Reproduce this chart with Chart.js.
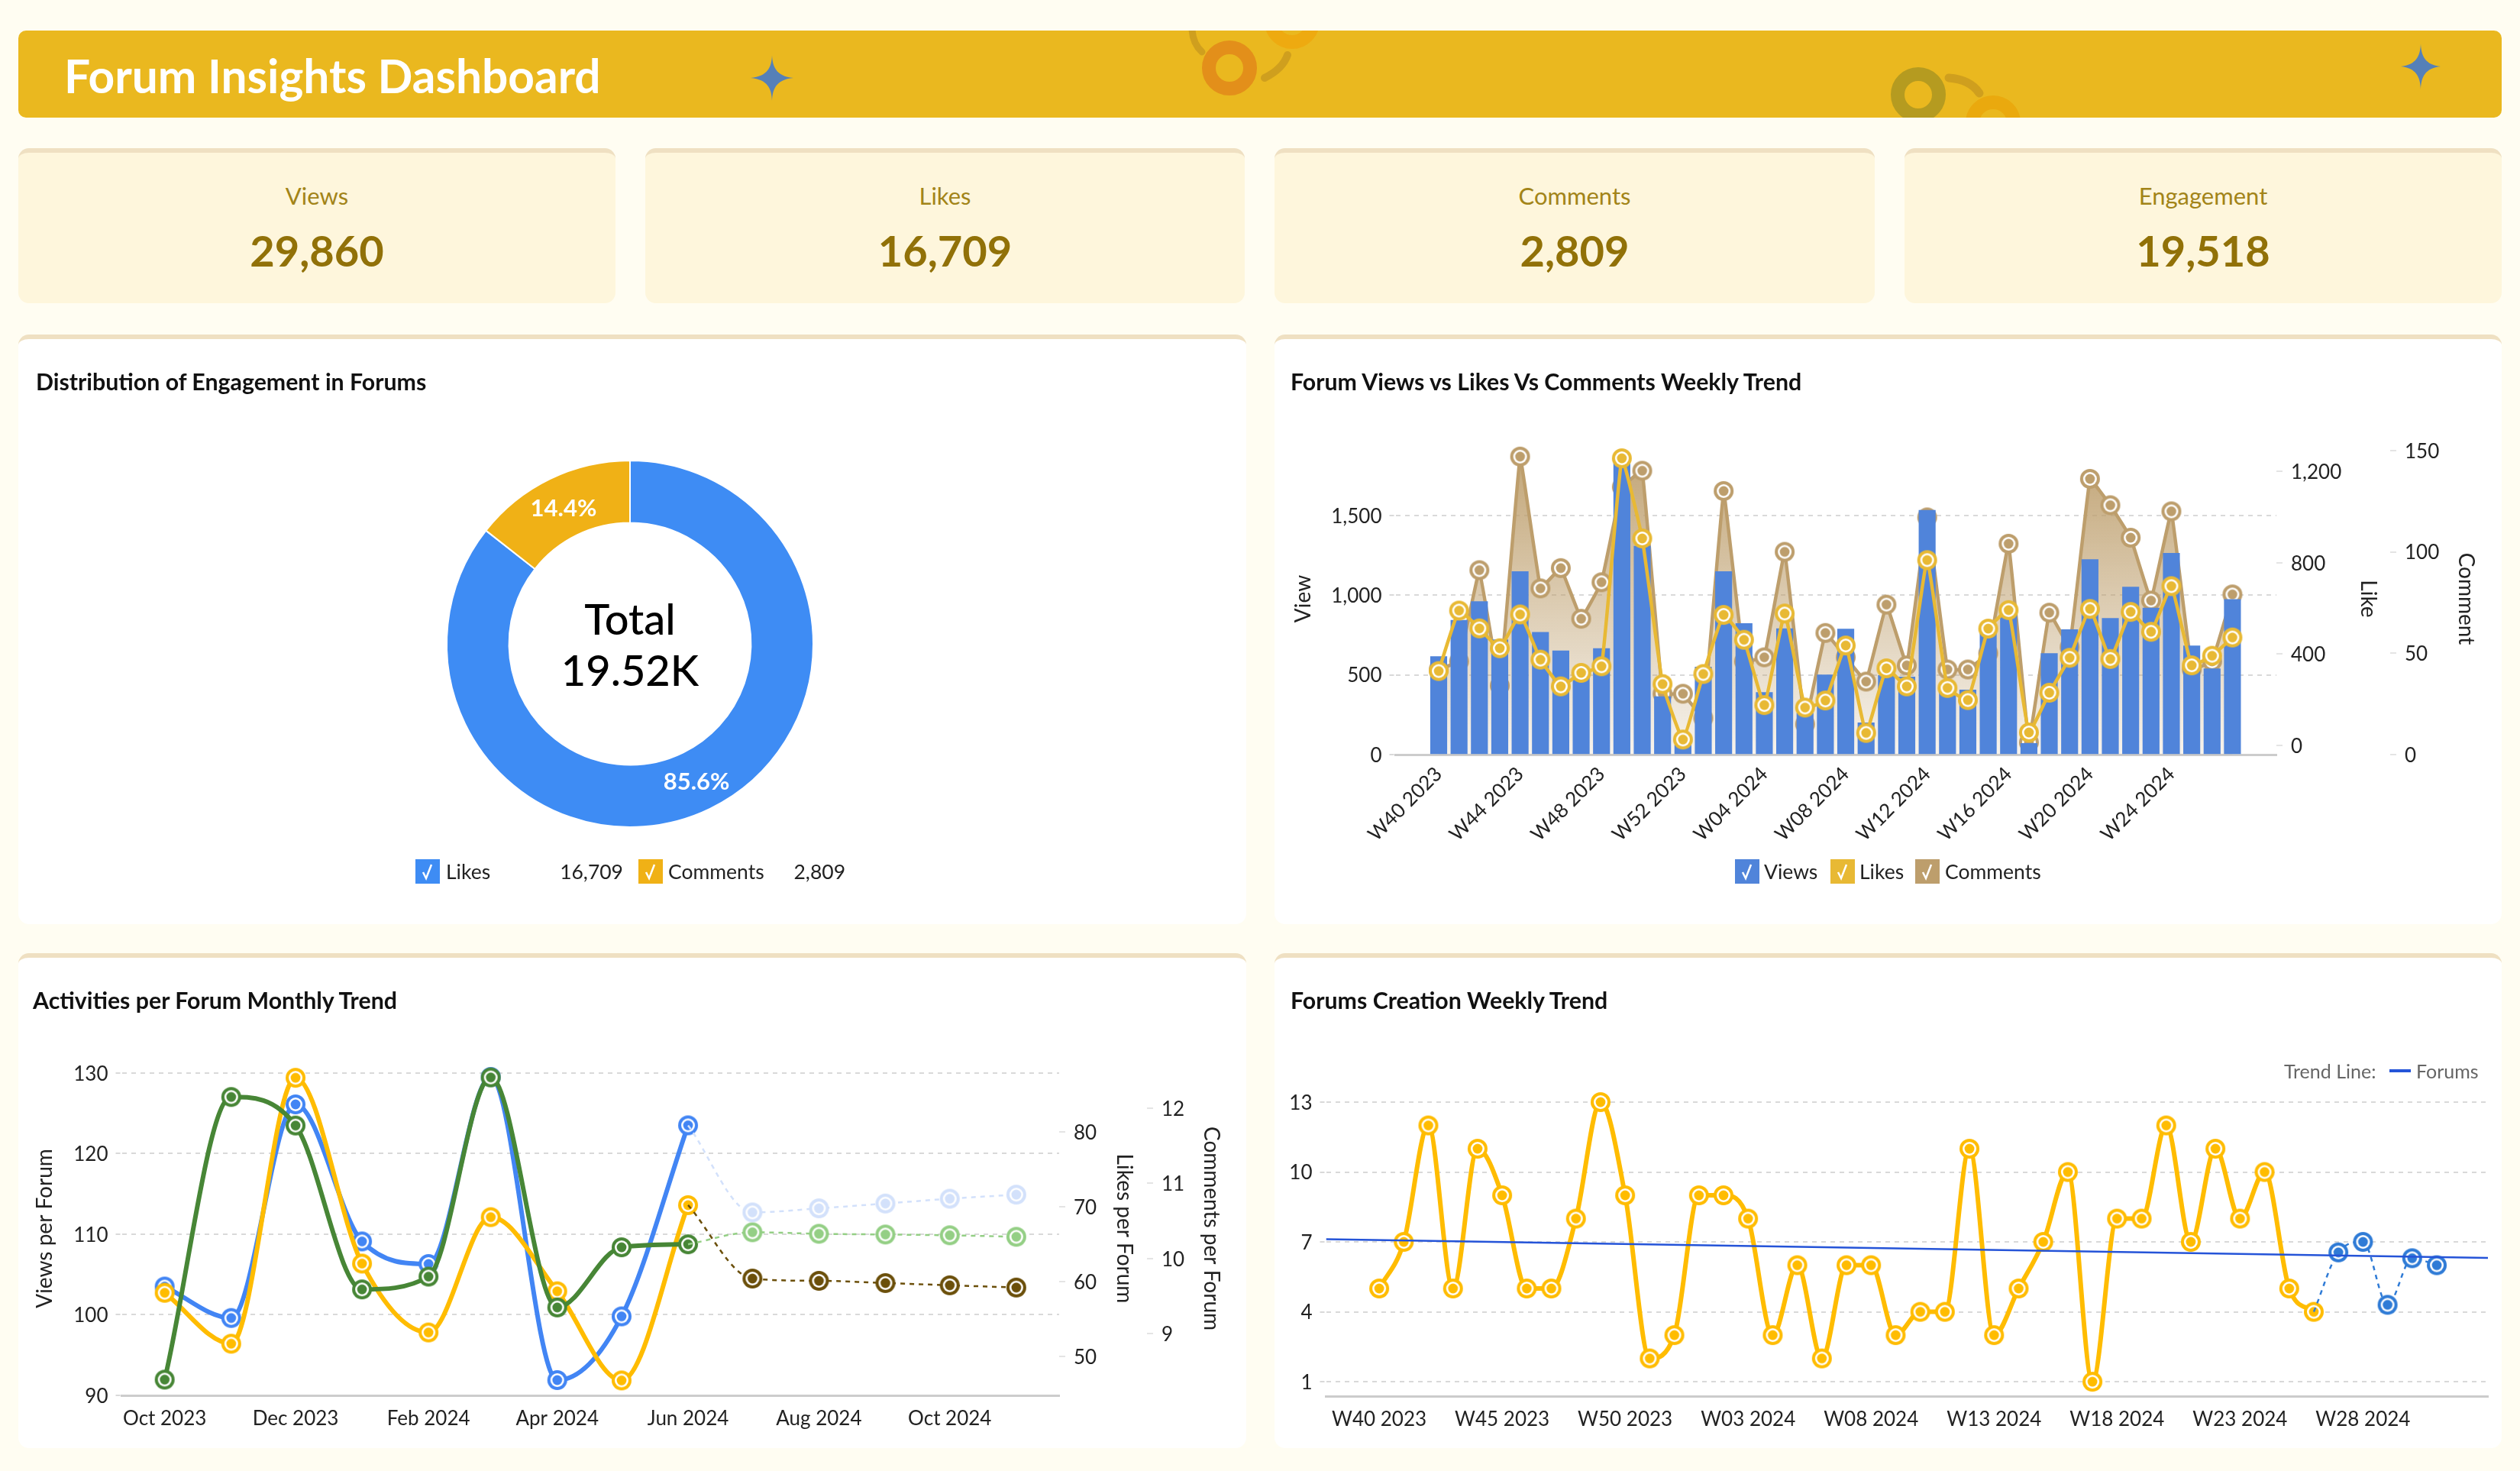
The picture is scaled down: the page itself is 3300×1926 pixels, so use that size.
<!DOCTYPE html>
<html>
<head>
<meta charset="utf-8">
<title>Forum Insights Dashboard</title>
<script src="https://cdn.jsdelivr.net/npm/chart.js@4"></script>
<style>
  html, body { margin: 0; padding: 0; background: #fffdf2; }
  body { position: relative; width: 3300px; height: 1926px; overflow: hidden; font-family: Lato, sans-serif; color: #111; }
  .abs { position: absolute; }
  #header { left: 24px; top: 40px; width: 3252px; height: 114px; background: #eab81f; border-radius: 10px; overflow: hidden; }
  #header h1 { position: absolute; left: 60px; top: 0; margin: 0; line-height: 118px; font-size: 60.4px; font-weight: 700; color: #fff; white-space: nowrap; }
  #header svg { position: absolute; left: 0; top: 0; }
  .kpi { box-sizing: border-box; top: 194px; height: 203px; background: #fef6dc; border-top: 6px solid #efe0c2; border-radius: 14px; text-align: center; }
  .kpi .name { position: absolute; left: 0; right: 0; top: 36px; line-height: 40px; font-size: 31px; color: #a28418; }
  .kpi .num { position: absolute; left: 0; right: 0; top: 88px; line-height: 80px; font-size: 56px; font-weight: 700; color: #917108; }
  .panel { box-sizing: border-box; background: #fff; border-top: 6px solid #efe0c2; border-radius: 14px; }
  .title { font-size: 30.3px; font-weight: 700; line-height: 40px; white-space: nowrap; color: #111; }
  canvas { position: absolute; }
  .sw { position: absolute; top: 1125px; width: 32px; height: 32px; }
  .sw svg { position: absolute; left: 0; top: 0; }
  .lg { position: absolute; top: 1125px; line-height: 32px; font-size: 26.5px; white-space: nowrap; color: #222; }
</style>
</head>
<body>
<div id="header" class="abs">
  <h1>Forum Insights Dashboard</h1>
  <svg width="3252" height="114" viewBox="24 40 3252 114">
    <g fill="none">
      <circle cx="1610" cy="89" r="27" stroke="#e38f1a" stroke-width="18"/>
      <circle cx="1692" cy="28" r="27" stroke="#eeaa10" stroke-width="18"/>
      <circle cx="2512" cy="124" r="27" stroke="#b59b20" stroke-width="18"/>
      <circle cx="2610" cy="161" r="27" stroke="#eaa90e" stroke-width="18"/>
      <path d="M1561 36 Q1561 56 1574 68" stroke="#cf9f1e" stroke-width="9" stroke-linecap="round"/>
      <path d="M1686 72 Q1680 90 1656 102" stroke="#cf9f1e" stroke-width="10" stroke-linecap="round"/>
      <path d="M2552 102 Q2580 104 2592 122" stroke="#cf9f1e" stroke-width="11" stroke-linecap="round"/>
    </g>
    <path fill="#5580b8" d="M1011 72 C1011.5 88 1017 100 1039 102 C1017 104 1011.5 116 1011 132 C1010.5 116 1005 104 983 102 C1005 100 1010.5 88 1011 72Z"/>
    <path fill="#5580b8" d="M3170 57 C3170.5 73 3176 85 3196 87 C3176 89 3170.5 101 3170 117 C3169.5 101 3164 89 3144 87 C3164 85 3169.5 73 3170 57Z"/>
  </svg>
</div>

<div class="abs kpi" style="left:24px;width:782px"><div class="name">Views</div><div class="num">29,860</div></div>
<div class="abs kpi" style="left:845px;width:785px"><div class="name">Likes</div><div class="num">16,709</div></div>
<div class="abs kpi" style="left:1669px;width:786px"><div class="name">Comments</div><div class="num">2,809</div></div>
<div class="abs kpi" style="left:2494px;width:782px"><div class="name">Engagement</div><div class="num">19,518</div></div>

<div class="abs panel" style="left:24px;top:438px;width:1608px;height:772px"></div>
<div class="abs panel" style="left:1669px;top:438px;width:1607px;height:772px"></div>
<div class="abs panel" style="left:24px;top:1248px;width:1608px;height:648px"></div>
<div class="abs panel" style="left:1669px;top:1248px;width:1607px;height:648px"></div>

<canvas id="share-chart" width="1608" height="772" style="left:24px;top:438px"></canvas>
<canvas id="weekly-chart" width="1607" height="772" style="left:1669px;top:438px"></canvas>
<canvas id="monthly-chart" width="1608" height="648" style="left:24px;top:1248px"></canvas>
<canvas id="forums-chart" width="1607" height="648" style="left:1669px;top:1248px"></canvas>

<div class="abs title" style="left:47px;top:479px">Distribution of Engagement in Forums</div>
<div class="abs title" style="left:1690px;top:479px">Forum Views vs Likes Vs Comments Weekly Trend</div>
<div class="abs title" style="left:43px;top:1289px">Activities per Forum Monthly Trend</div>
<div class="abs title" style="left:1690px;top:1289px">Forums Creation Weekly Trend</div>

<div id="legends"></div>

<div class="abs" style="left:2991px;top:1384px;line-height:36px;font-size:25px;color:#666">Trend Line:</div>
<div class="abs" style="left:3129px;top:1400px;width:28px;height:4px;background:#2554d8"></div>
<div class="abs" style="left:3164px;top:1384px;line-height:36px;font-size:25px;color:#666">Forums</div>

<script>
// ****DATA****//
const shareLabels = ["Likes", "Comments"];
const shareValues = [16709, 2809];
const shareCenter = ["Total", "19.52K"];

const weekLabels = [
  "W40 2023", "W41 2023", "W42 2023", "W43 2023", "W44 2023", "W45 2023", "W46 2023", "W47 2023", "W48 2023",
  "W49 2023", "W50 2023", "W51 2023", "W52 2023", "W01 2024", "W02 2024", "W03 2024", "W04 2024", "W05 2024",
  "W06 2024", "W07 2024", "W08 2024", "W09 2024", "W10 2024", "W11 2024", "W12 2024", "W13 2024", "W14 2024",
  "W15 2024", "W16 2024", "W17 2024", "W18 2024", "W19 2024", "W20 2024", "W21 2024", "W22 2024", "W23 2024",
  "W24 2024", "W25 2024", "W26 2024", "W27 2024", "W28 2024", "W29 2024", "W30 2024", "W31 2024",
];

const weeklyViews = [
  615, 843, 960, 720, 1148, 767, 651, 515, 665, 1860, 1307, 364, 60, 549, 1148, 822, 390, 790, 260, 500,
  788, 199, 496, 487, 1532, 420, 405, 760, 875, 70, 634, 784, 1223, 854, 1051, 919, 1263, 682, 538, 973,
];
const weeklyLikes = [
  326, 591, 513, 426, 574, 376, 259, 318, 347, 1258, 907, 269, 26, 313, 572, 463, 177, 578, 166, 197,
  438, 55, 338, 259, 812, 252, 199, 512, 593, 57, 231, 384, 598, 379, 585, 498, 698, 351, 393, 473,
];
const weeklyComments = [
  42, 46, 91, 34, 147, 82, 92, 67, 85, 132, 140, 30, 30, 18, 130, 46, 48, 100, 15, 60,
  48, 36, 74, 44, 117, 42, 42, 50, 104, 6, 70, 53, 136, 123, 107, 76, 120, 42, 46, 79,
];
const viewTicks = [0, 500, 1000, 1500];
const likeTicks = [0, 400, 800, 1200];
const commentTicks = [0, 50, 100, 150];

const monthLabels = [
  "Oct 2023", "Nov 2023", "Dec 2023", "Jan 2024", "Feb 2024", "Mar 2024", "Apr 2024",
  "May 2024", "Jun 2024", "Jul 2024", "Aug 2024", "Sep 2024", "Oct 2024", "Nov 2024",
];
const monthDays = [0, 31, 61, 92, 123, 152, 183, 213, 244, 274, 305, 336, 366, 397];
const viewsPerForum = [103.5, 99.6, 126.1, 109.1, 106.3, 129.5, 91.9, 99.8, 123.5];
const viewsPerForumForecast = [112.7, 113.2, 113.8, 114.4, 114.9];
const likesPerForum = [58.5, 51.7, 87.2, 62.4, 53.2, 68.6, 58.7, 46.8, 70.2];
const likesPerForumForecast = [60.4, 60.1, 59.8, 59.5, 59.2];
const commentsPerForum = [8.39, 12.15, 11.77, 9.59, 9.76, 12.41, 9.35, 10.15, 10.19];
const commentsPerForumForecast = [10.35, 10.33, 10.32, 10.31, 10.29];
const viewsPerForumTicks = [90, 100, 110, 120, 130];
const likesPerForumTicks = [50, 60, 70, 80];
const commentsPerForumTicks = [9, 10, 11, 12];

const forumsActual = [
  5, 7, 12, 5, 11, 9, 5, 5, 8, 13, 9, 2, 3, 9, 9, 8, 3, 6, 2, 6,
  6, 3, 4, 4, 11, 3, 5, 7, 10, 1, 8, 8, 12, 7, 11, 8, 10, 5, 4,
];
const forumsForecast = [6.55, 7, 4.3, 6.3, 6];
const forumsTrend = [7.12, 6.31];
const forumsTicks = [1, 4, 7, 10, 13];

// ****SHARED STUFF****//
Chart.defaults.font.family = "Lato";
Chart.defaults.font.size = 26;
Chart.defaults.color = "#222";
Chart.defaults.devicePixelRatio = 1;
Chart.defaults.responsive = false;
Chart.defaults.animation = false;
Chart.defaults.plugins.legend.display = false;
Chart.defaults.plugins.tooltip.enabled = false;

const GRID = "#d9d9d9";

//ring, white ring, dot
function marker(color) {
  let c = document.createElement("canvas");
  c.width = 28;
  c.height = 28;
  let g = c.getContext("2d");
  [[13, color], [9, "#fff"], [6.4, color]].forEach(function (ring) {
    g.beginPath();
    g.arc(14, 14, ring[0], 0, Math.PI * 2);
    g.fillStyle = ring[1];
    g.fill();
  });
  return c;
}

function fixedTicks(values) {
  return function (scale) {
    scale.ticks = values.map(function (v) {
      return { value: v };
    });
  };
}

function fixedWidth(w) {
  return function (scale) {
    scale.width = w;
  };
}

function fixedHeight(h) {
  return function (scale) {
    scale.height = h;
  };
}

function leftAxis(ticks, min, max, width, tickPad, title) {
  let axis = {
    position: "left",
    min: min,
    max: max,
    afterBuildTicks: fixedTicks(ticks),
    afterFit: fixedWidth(width),
    border: { display: false, dash: [6, 6] },
    grid: { color: GRID, lineWidth: 2, tickLength: 8, tickColor: GRID, tickBorderDash: [6, 6] },
    ticks: {
      padding: tickPad,
      labelOffset: 1.5,
      callback: function (v) {
        return v.toLocaleString("en-US");
      },
    },
  };
  if (title) {
    axis.title = { display: true, text: title, font: { size: 28 }, padding: { top: 0, bottom: 0 } };
  }
  return axis;
}

function rightAxis(ticks, min, max, width, titlePad, title) {
  return {
    position: "right",
    min: min,
    max: max,
    afterBuildTicks: fixedTicks(ticks),
    afterFit: fixedWidth(width),
    border: { display: false },
    grid: { drawOnChartArea: false, lineWidth: 2, tickLength: 8, tickColor: "#e4e4e4" },
    ticks: {
      padding: 11,
      labelOffset: 1.5,
      callback: function (v) {
        return v.toLocaleString("en-US");
      },
    },
    title: { display: true, text: title, font: { size: 28 }, padding: { top: titlePad, bottom: 0 } },
  };
}

function bottomAxis(min, max, height, ticks, labelFor, tickOptions) {
  return {
    type: "linear",
    offset: false,
    min: min,
    max: max,
    afterBuildTicks: fixedTicks(ticks),
    afterFit: fixedHeight(height),
    border: { color: "#cccccc", width: 3 },
    grid: { display: false, offset: false, drawTicks: false, tickLength: 0 },
    ticks: Object.assign(
      { autoSkip: false, includeBounds: false, callback: labelFor },
      tickOptions
    ),
  };
}

//legend boxes with the check in them
function addLegend(text, color, left, textLeft) {
  let box = document.getElementById("legends");
  let sw = document.createElement("div");
  sw.className = "sw";
  sw.style.left = left + "px";
  sw.style.background = color;
  sw.innerHTML =
    '<svg width="32" height="32"><path d="M10 17 L14 25 L21 7" fill="none" stroke="#fff" stroke-width="2.5"/></svg>';
  box.appendChild(sw);
  let label = document.createElement("div");
  label.className = "lg";
  label.style.left = textLeft + "px";
  label.textContent = text;
  box.appendChild(label);
}

function addLegendValue(text, right) {
  let label = document.createElement("div");
  label.className = "lg";
  label.style.right = 3300 - right + "px";
  label.textContent = text;
  document.getElementById("legends").appendChild(label);
}

// ****DISTRIBUTION DONUT****//
const shareColors = ["#3e8cf4", "#f0b116"];

const shareText = {
  id: "shareText",
  afterDraw: function (chart) {
    let ctx = chart.ctx;
    let total = shareValues.reduce(function (a, b) {
      return a + b;
    }, 0);
    ctx.save();
    ctx.textAlign = "center";
    ctx.textBaseline = "middle";
    ctx.fillStyle = "#fff";
    ctx.font = "700 31px Lato";
    chart.getDatasetMeta(0).data.forEach(function (arc, i) {
      let p = arc.getCenterPoint();
      ctx.fillText(((shareValues[i] / total) * 100).toFixed(1) + "%", p.x, p.y + 2);
    });
    ctx.fillStyle = "#000";
    ctx.font = "500 56px Lato";
    ctx.fillText(shareCenter[0], 801, 375);
    ctx.fillText(shareCenter[1], 801, 442);
    ctx.restore();
  },
};

new Chart(document.getElementById("share-chart"), {
  type: "doughnut",
  data: {
    labels: shareLabels,
    datasets: [
      {
        data: shareValues,
        backgroundColor: shareColors,
        borderColor: "#fff",
        borderWidth: 2,
      },
    ],
  },
  options: {
    cutout: "66%",
    layout: { padding: { left: 0, right: 6, top: 164, bottom: 126 } },
  },
  plugins: [shareText],
});

addLegend(shareLabels[0], shareColors[0], 544, 584);
addLegendValue(shareValues[0].toLocaleString("en-US"), 816);
addLegend(shareLabels[1], shareColors[1], 836, 875);
addLegendValue(shareValues[1].toLocaleString("en-US"), 1107);

// ****WEEKLY MIXED CHART****//
const viewColor = "#5084da";
const likeColor = "#e8b934";
const commentColor = "#bd9e6c";

let weeklyCanvas = document.getElementById("weekly-chart");
let commentFill = weeklyCanvas.getContext("2d").createLinearGradient(0, 142, 0, 550);
commentFill.addColorStop(0, "rgba(189,158,108,0.95)");
commentFill.addColorStop(1, "rgba(189,158,108,0.12)");

function byIndex(values) {
  return values.map(function (v, i) {
    return { x: i, y: v };
  });
}

new Chart(weeklyCanvas, {
  type: "bar",
  data: {
    datasets: [
      {
        type: "line",
        label: "Likes",
        data: byIndex(weeklyLikes),
        yAxisID: "yLike",
        order: 1,
        borderColor: likeColor,
        borderWidth: 4.5,
        tension: 0.1,
        pointStyle: marker(likeColor),
        pointRadius: 12,
      },
      {
        type: "bar",
        label: "Views",
        data: byIndex(weeklyViews),
        yAxisID: "y",
        order: 2,
        backgroundColor: viewColor,
        barThickness: 21.5,
      },
      {
        type: "line",
        label: "Comments",
        data: byIndex(weeklyComments),
        yAxisID: "yComment",
        order: 3,
        fill: "origin",
        backgroundColor: commentFill,
        borderColor: commentColor,
        borderWidth: 4.5,
        tension: 0.05,
        pointStyle: marker(commentColor),
        pointRadius: 12,
      },
    ],
  },
  options: {
    layout: { padding: { left: 21, right: 30, top: 142, bottom: 0 } },
    scales: {
      x: bottomAxis(
        -2.12,
        41.16,
        222,
        [0, 4, 8, 12, 16, 20, 24, 28, 32, 36],
        function (v) {
          return weekLabels[v];
        },
        { minRotation: 45, maxRotation: 45, padding: 10 }
      ),
      y: leftAxis(viewTicks, 0, 1954, 137.5, 10, "View"),
      yLike: rightAxis(likeTicks, -40, 1325, 149, 12, "Like"),
      yComment: rightAxis(commentTicks, 0, 153.7, 116, 0, "Comment"),
    },
  },
});

addLegend("Views", viewColor, 2272, 2310);
addLegend("Likes", likeColor, 2397, 2435);
addLegend("Comments", commentColor, 2508, 2547);

// ****ACTIVITIES PER FORUM****//
function byDay(values, start) {
  return values.map(function (v, i) {
    return { x: monthDays[i + start], y: v };
  });
}

function solidLine(label, values, axis, color) {
  return {
    label: label,
    data: byDay(values, 0),
    yAxisID: axis,
    borderColor: color,
    borderWidth: 6,
    cubicInterpolationMode: "monotone",
    pointStyle: marker(color),
    pointRadius: 12,
  };
}

//forecast starts at the last real point, no marker on that one
function forecastLine(label, last, values, axis, color) {
  return {
    label: label + " forecast",
    data: byDay([last].concat(values), 8),
    yAxisID: axis,
    order: -1,
    borderColor: color,
    borderWidth: 2.5,
    borderDash: [6, 6],
    cubicInterpolationMode: "monotone",
    pointStyle: marker(color),
    pointRadius: function (ctx) {
      return ctx.dataIndex === 0 ? 0 : 12;
    },
  };
}

new Chart(document.getElementById("monthly-chart"), {
  type: "line",
  data: {
    datasets: [
      solidLine("Comments per Forum", commentsPerForum, "yComment", "#478636"),
      solidLine("Likes per Forum", likesPerForum, "yLike", "#ffbc00"),
      solidLine("Views per Forum", viewsPerForum, "y", "#4285f4"),
      forecastLine("Views per Forum", viewsPerForum[8], viewsPerForumForecast, "y", "#d3e1fb"),
      forecastLine("Likes per Forum", likesPerForum[8], likesPerForumForecast, "yLike", "#6b4f0a"),
      forecastLine("Comments per Forum", commentsPerForum[8], commentsPerForumForecast, "yComment", "#94cf85"),
    ],
  },
  options: {
    layout: { padding: { left: 18, right: 29, top: 142, bottom: 0 } },
    scales: {
      x: bottomAxis(
        -20,
        417,
        69,
        [0, 61, 123, 183, 244, 305, 366],
        function (v) {
          return monthLabels[monthDays.indexOf(v)];
        },
        { maxRotation: 0, minRotation: 0, padding: 15 }
      ),
      y: leftAxis(viewsPerForumTicks, 90, 131.4, 117.5, 10, "Views per Forum"),
      yLike: rightAxis(likesPerForumTicks, 44.8, 89.36, 115, 13, "Likes per Forum"),
      yComment: rightAxis(commentsPerForumTicks, 8.18, 12.62, 101, 0, "Comments per Forum"),
    },
  },
});

// ****FORUMS CREATION****//
const forumsColor = "#ffbc00";
const forecastColor = "#2f7bd6";
const trendColor = "#2554d8";
const xMin = -2.16;
const xMax = 45.08;

new Chart(document.getElementById("forums-chart"), {
  type: "line",
  data: {
    datasets: [
      {
        label: "Forums",
        data: byIndex(forumsActual),
        borderColor: forumsColor,
        borderWidth: 6,
        cubicInterpolationMode: "monotone",
        pointStyle: marker(forumsColor),
        pointRadius: 12,
      },
      {
        label: "Forums forecast",
        data: [forumsActual[forumsActual.length - 1]].concat(forumsForecast).map(function (v, i) {
          return { x: forumsActual.length - 1 + i, y: v };
        }),
        order: -1,
        borderColor: forecastColor,
        borderWidth: 2.5,
        borderDash: [6, 6],
        cubicInterpolationMode: "monotone",
        pointStyle: marker(forecastColor),
        pointRadius: function (ctx) {
          return ctx.dataIndex === 0 ? 0 : 12;
        },
      },
      {
        label: "Trend Line",
        data: [
          { x: xMin, y: forumsTrend[0] },
          { x: xMax, y: forumsTrend[1] },
        ],
        order: -2,
        borderColor: trendColor,
        borderWidth: 2.5,
        pointRadius: 0,
      },
    ],
  },
  options: {
    layout: { padding: { left: 0, right: 15, top: 152, bottom: 0 } },
    scales: {
      x: bottomAxis(
        xMin,
        xMax,
        68,
        [0, 5, 10, 15, 20, 25, 30, 35, 40],
        function (v) {
          return weekLabels[v];
        },
        { maxRotation: 0, minRotation: 0, padding: 15 }
      ),
      y: leftAxis(forumsTicks, 0.38, 14.41, 67.5, 10),
    },
  },
});
</script>
</body>
</html>
